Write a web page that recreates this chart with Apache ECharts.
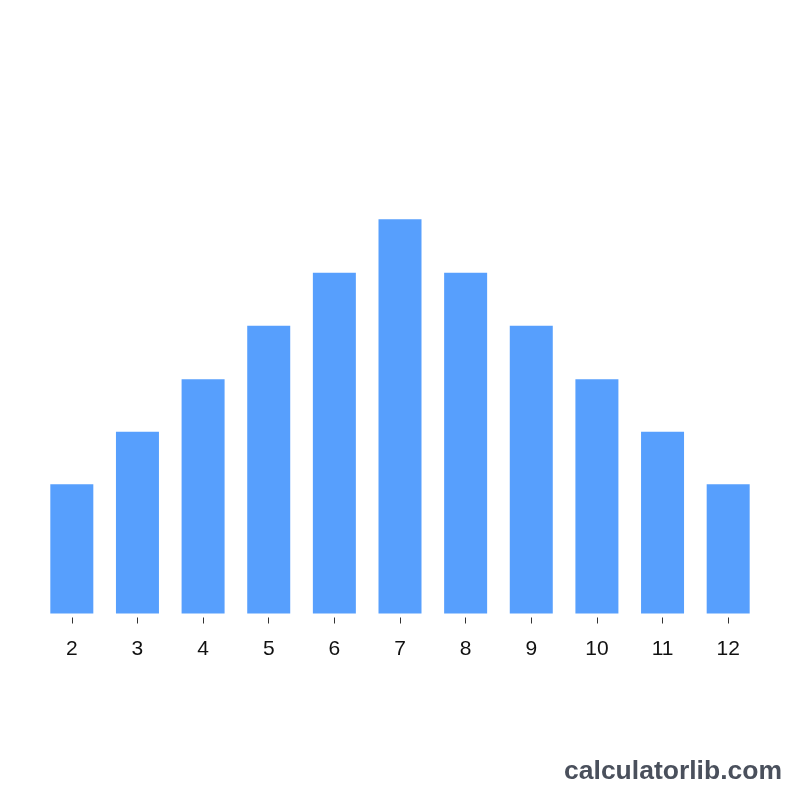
<!DOCTYPE html>
<html>
<head>
<meta charset="utf-8">
<script src="https://cdn.jsdelivr.net/npm/echarts@6/dist/echarts.min.js"></script>
<style>
html,body{margin:0;padding:0;background:#ffffff;}
#chart{width:800px;height:800px;}
</style>
</head>
<body>
<div id="chart"></div>
<script>
// Sum of two dice (categories) and bar heights
const sums = ['2','3','4','5','6','7','8','9','10','11','12'];
const heights = [2.44, 3.43, 4.42, 5.43, 6.43, 7.44, 6.43, 5.43, 4.42, 3.43, 2.44];
const watermark = 'calculatorlib.com';

const chart = echarts.init(document.getElementById('chart'), null, {renderer: 'canvas'});
chart.setOption({
  animation: false,
  backgroundColor: '#ffffff',
  grid: {left: 39, right: 39, top: 83.5, bottom: 186.5, containLabel: false},
  xAxis: {
    type: 'category',
    position: 'bottom',
    data: sums,
    offset: 4,
    axisLine: {show: false, onZero: false},
    axisTick: {show: true, alignWithLabel: true, length: 6, lineStyle: {color: '#333333', width: 1}},
    axisLabel: {margin: 21, fontSize: 21, color: '#111111', fontFamily: 'Liberation Sans, Arial, sans-serif'}
  },
  yAxis: {
    type: 'value', min: 0, max: 10, show: false,
    splitLine: {show: false}
  },
  series: [{
    type: 'bar',
    data: heights,
    barWidth: 43,
    itemStyle: {color: '#579ffd'}
  }],
  graphic: [{
    type: 'text',
    right: 18,
    bottom: 15,
    style: {
      text: watermark,
      fill: '#4a505c',
      font: 'bold 26.5px "Liberation Sans", Arial, sans-serif'
    }
  }]
});
</script>
</body>
</html>
